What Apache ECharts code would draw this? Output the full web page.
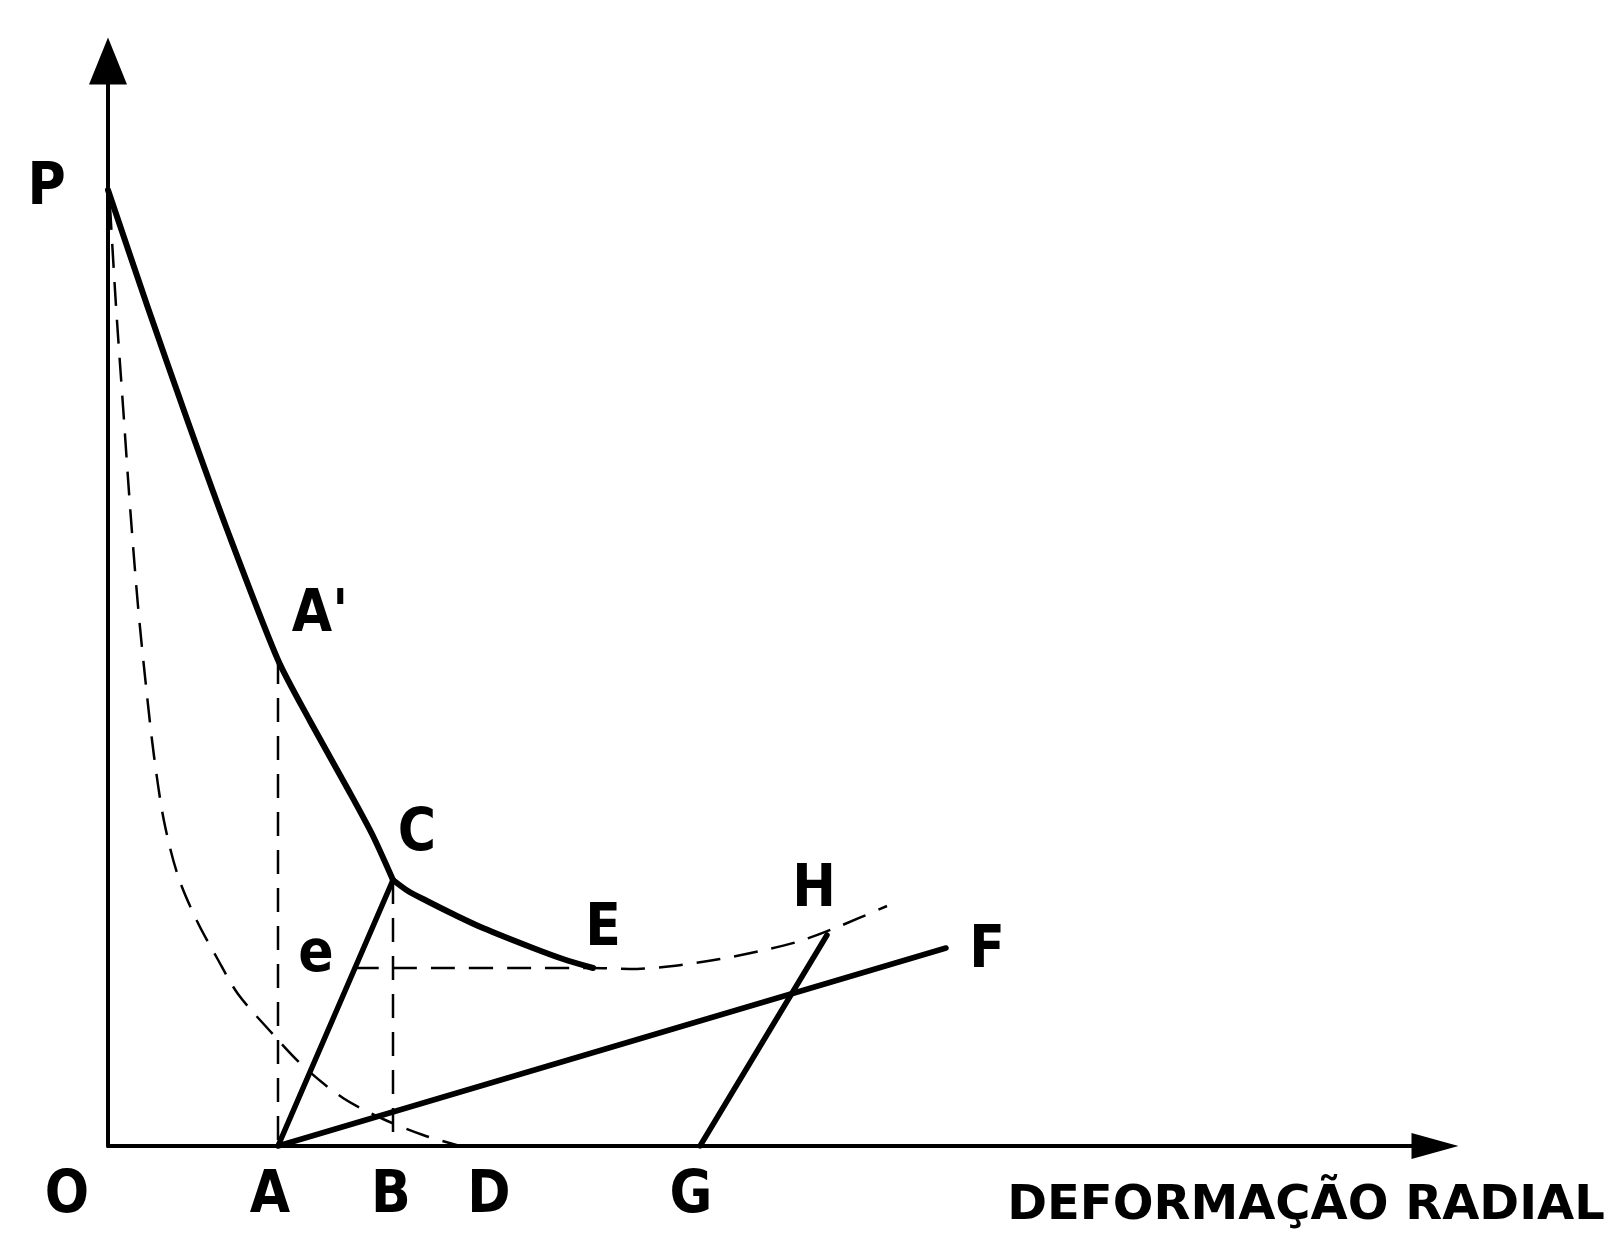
<!DOCTYPE html>
<html>
<head>
<meta charset="utf-8">
<script src="https://cdn.jsdelivr.net/npm/echarts@6/dist/echarts.min.js"></script>
<style>
html,body{margin:0;padding:0;background:#fff;}
#chart{width:1621px;height:1233px;}
</style>
</head>
<body>
<div id="chart"></div>
<script>
// Curve P -> A' -> C (solid)
const curvePC = [[0,9.56],[0.4,8.38],[0.8,7.24],[1.2,6.14],[1.70,4.86],[2.02,4.25],[2.42,3.53],[2.65,3.10],[2.85,2.66]];
// Curve C -> E (solid)
const curveCE = [[2.85,2.66],[3.0,2.55],[3.19,2.45],[3.45,2.32],[3.75,2.18],[4.25,1.98],[4.55,1.87],[4.85,1.78]];
// Dashed curve from P down to D
const curvePD = [[0.02,9.40],[0.08,8.40],[0.15,7.40],[0.22,6.40],[0.30,5.40],[0.38,4.60],[0.46,3.90],[0.56,3.25],[0.70,2.70],[0.89,2.25],[1.09,1.88],[1.30,1.52],[1.62,1.15],[1.95,0.80],[2.35,0.48],[2.75,0.27],[3.15,0.11],[3.52,0.0]];
// Dashed line e -> E and its continuation past H
const curveEH = [[2.47,1.78],[4.85,1.78],[5.22,1.77],[5.65,1.80],[6.12,1.87],[6.52,1.95],[6.92,2.05],[7.32,2.20],[7.79,2.40]];
// Dashed verticals
const vertAprime = [[1.70,4.86],[1.70,0]];
const vertC = [[2.85,2.66],[2.85,0]];
// Straight solid lines
const lineAC = [[1.70,0],[2.85,2.66]];
const lineAF = [[1.70,0],[8.38,1.98]];
const lineGH = [[5.92,0],[7.19,2.11]];
// Point labels
const labelNames = ['P',"A'",'C','E','e','H','F','O','A','B','D','G'];
const labelPos = [[-0.615,9.57],[2.12,5.30],[3.09,3.11],[4.95,2.16],[2.08,1.90],[7.06,2.55],[8.79,1.94],[-0.41,-0.51],[1.62,-0.51],[2.83,-0.51],[3.81,-0.51],[5.83,-0.51]];
const axisTitle = 'DEFORMAÇÃO RADIAL';
const axisTitlePos = [11.98,-0.61];

const FONT = "'Liberation Sans Narrow','DejaVu Sans Condensed','Liberation Sans',sans-serif";

function solid(data, w, smooth){
  return {type:'line', data:data, symbol:'none', smooth:smooth||false, silent:true,
    lineStyle:{color:'#000', width:w, type:'solid', cap:'round', join:'round'}};
}
function dashed(data, w, smooth){
  return {type:'line', data:data, symbol:'none', smooth:smooth||false, silent:true,
    lineStyle:{color:'#000', width:w, type:[24,14]}};
}

const chart = echarts.init(document.getElementById('chart'), null, {renderer:'canvas'});
const axisCommon = {
  type:'value', min:0,
  splitLine:{show:false}, axisTick:{show:false}, axisLabel:{show:false},
  axisLine:{show:true, onZero:false, symbol:['none','triangle'],
    lineStyle:{color:'#000', width:4}}
};
const option = {
  animation:false,
  backgroundColor:'#fff',
  grid:{left:108, right:186, top:61, bottom:87, containLabel:false},
  xAxis:Object.assign({}, axisCommon, {max:13.27,
    axisLine:Object.assign({}, axisCommon.axisLine, {symbolSize:[26,47]})}),
  yAxis:Object.assign({}, axisCommon, {max:10.85,
    axisLine:Object.assign({}, axisCommon.axisLine, {symbolSize:[38,47]})}),
  series:[
    dashed(curvePD, 2.5, 0.3),
    dashed(curveEH, 2.5, 0.3),
    dashed(vertAprime, 2.5),
    dashed(vertC, 2.5),
    solid(curvePC, 6, 0.25),
    solid(curveCE, 6, 0.3),
    solid(lineAC, 5.5),
    solid(lineAF, 5.5),
    solid(lineGH, 5.5),
    {type:'scatter', clip:false, silent:true, symbolSize:0, itemStyle:{opacity:1},
      data:labelNames.map((n,i)=>({name:n, value:labelPos[i]})),
      label:{show:true, position:'inside', formatter:'{b}', color:'#000',
        fontFamily:FONT, fontSize:58, fontWeight:'bold', textBorderWidth:0}},
    {type:'scatter', clip:false, silent:true, symbolSize:0, itemStyle:{opacity:1},
      data:[{name:axisTitle, value:axisTitlePos}],
      label:{show:true, position:'inside', formatter:'{b}', color:'#000',
        fontFamily:"'DejaVu Sans',sans-serif", fontSize:48, fontWeight:'bold', textBorderWidth:0}}
  ]
};
chart.setOption(option);
</script>
</body>
</html>
